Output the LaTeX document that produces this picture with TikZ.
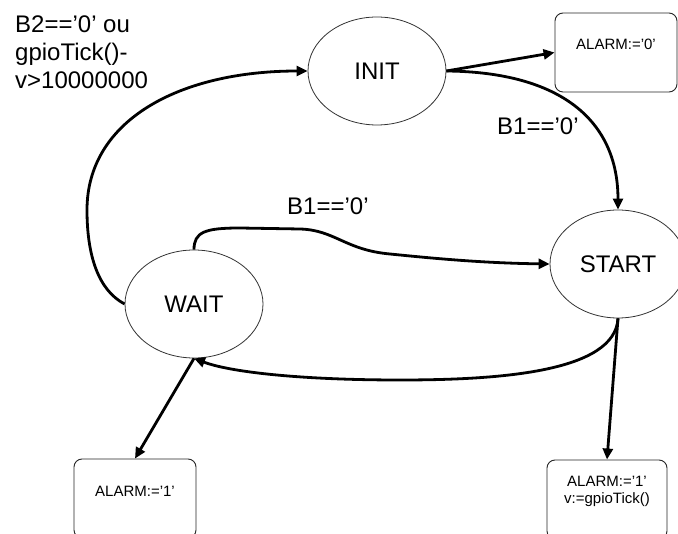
\documentclass[tikz,border=0pt]{standalone}
\usepackage{fontspec}
\setmainfont{Liberation Sans}
\usetikzlibrary{arrows.meta,shapes.geometric}
\newcommand\myquote{\char"27\relax}
\begin{document}
\begin{tikzpicture}[x=1pt,y=-1pt,
  state/.style={ellipse,draw=black!80,line width=0.8pt,minimum width=138pt,minimum height=108pt,inner sep=0pt,font=\fontsize{24}{28}\selectfont},
  actbox/.style={draw=black!85,line width=0.9pt,rounded corners=8pt,minimum width=122pt,minimum height=79pt,inner sep=0pt},
  acttext/.style={font=\fontsize{15}{16.5}\selectfont,inner sep=0pt,align=center},
  cond/.style={font=\fontsize{24}{28}\selectfont,inner sep=0pt,align=left},
  trans/.style={line width=2.8pt,-{Triangle[length=11pt,width=10pt]}}]
\useasboundingbox (0,0) rectangle (678,534);
\clip (0,0) rectangle (678,534);
\fill[white] (0,0) rectangle (678,534);

% states
\node[state] (init) at (377,71) {INIT};
\node[state] (wait) at (194,304) {WAIT};
\node[state,minimum width=136pt] (start) at (618,264) {START};

% action boxes
\node[actbox] (box0) at (616,52.5) {};
\node[actbox] (box1) at (135,498.5) {};
\node[actbox,minimum width=120pt] (box2) at (607,499.5) {};
\node[acttext,anchor=base] (t0) at (616,50) {ALARM:=\myquote0\myquote};
\node[acttext,anchor=base] (t1) at (135,497) {ALARM:=\myquote1\myquote};
\node[acttext,anchor=north] (t2) at (607,476) {ALARM:=\myquote1\myquote\\v:=gpioTick()};

% conditions
\node[cond,anchor=north west] (c0) at (15,15.5) {B2=='0' ou\\gpioTick()-\\v>10000000};
\node[cond,anchor=base west] (c1) at (497,135) {B1=='0'};
\node[cond,anchor=base west] (c2) at (287,215) {B1=='0'};

% transitions
\draw[trans] (wait.west) .. controls (98,290) and (87,255) .. (87,210)
  .. controls (87,120) and (180,71) .. (init.west);
\draw[trans] (init.east) -- (box0.west);
\draw[trans] (init.east) .. controls (560,72) and (618,120) .. (start.north);
\draw[trans] (wait.north) .. controls (194,232) and (205,228) .. (240,228)
  -- (300,229) .. controls (335,230) and (345,250) .. (390,254)
  .. controls (430,258) and (480,263) .. (start.west);
\draw[trans] (start.south) .. controls (615,372) and (500,380) .. (400,380)
  .. controls (300,380) and (230,372) .. (wait.south);
\draw[trans] (wait.south) -- (box1.north);
\draw[trans] (start.south) -- (box2.north);
\end{tikzpicture}
\end{document}
